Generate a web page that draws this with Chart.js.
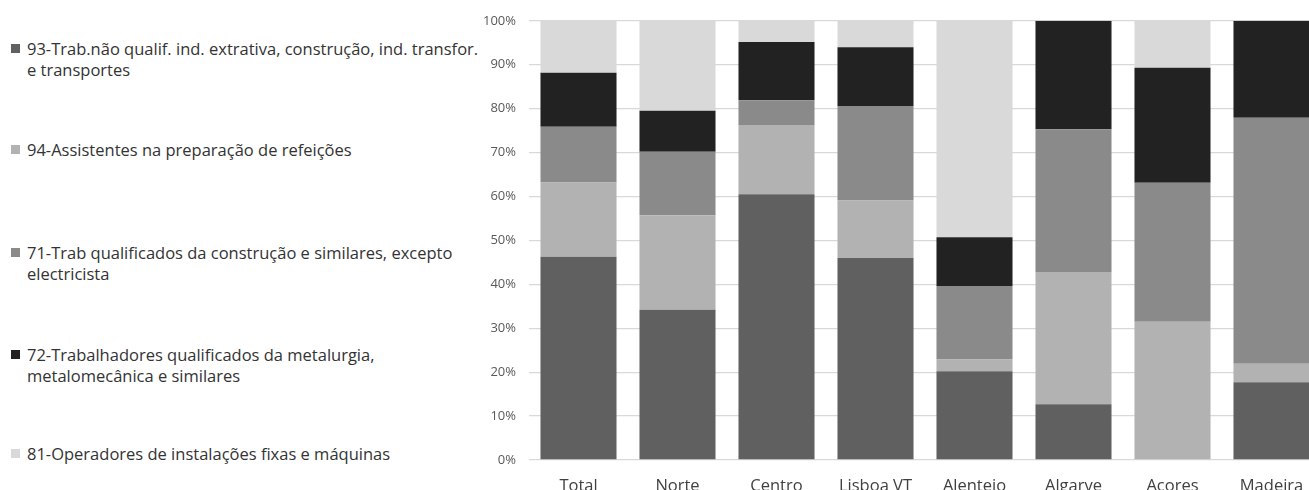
<!DOCTYPE html>
<html>
<head>
<meta charset="utf-8">
<script src="https://cdn.jsdelivr.net/npm/chart.js@4.4.1/dist/chart.umd.min.js"></script>
<style>
  html, body { margin: 0; padding: 0; overflow: hidden; background: #fff; width: 1309px; height: 490px; }
  #wrap { position: absolute; left: 440px; top: 0; width: 890px; height: 500px; }
  #legend { position: absolute; left: 0; top: 0; font-family: "Open Sans", sans-serif; font-size: 16.5px; color: #333; }
  .item { position: absolute; left: 11px; width: 480px; line-height: 21px; }
  .sw { position: absolute; left: 0; top: 6px; width: 9px; height: 9px; }
  .txt { position: absolute; left: 16px; width: 457px; }
</style>
</head>
<body>
<div id="legend"></div>
<div id="wrap"><canvas id="c"></canvas></div>
<script>
const categories = ["Total", "Norte", "Centro", "Lisboa VT", "Alentejo", "Algarve", "Açores", "Madeira"];
const seriesNames = [
  "93-Trab.não qualif. ind. extrativa, construção, ind. transfor. e transportes",
  "94-Assistentes na preparação de refeições",
  "71-Trab qualificados da construção e similares, excepto electricista",
  "72-Trabalhadores qualificados da metalurgia, metalomecânica e similares",
  "81-Operadores de instalações fixas e máquinas"
];
const s93 = [46.3, 34.2, 60.5, 46.0, 20.2, 12.7, 0.0, 17.7];
const s94 = [16.9, 21.5, 15.8, 13.1, 2.7, 30.1, 31.5, 4.2];
const s71 = [12.7, 14.5, 5.6, 21.5, 16.7, 32.5, 31.6, 56.0];
const s72 = [12.3, 9.3, 13.3, 13.4, 11.1, 24.7, 26.2, 22.1];
const s81 = [11.8, 20.5, 4.8, 6.0, 49.3, 0.0, 10.7, 0.0];
const yTicks = [0, 10, 20, 30, 40, 50, 60, 70, 80, 90, 100];
const colors = ["#606060", "#b2b2b2", "#8a8a8a", "#222222", "#d9d9d9"];
const seriesValues = [s93, s94, s71, s72, s81];

// HTML legend built from series arrays
const legendTops = [38, 139, 242, 344, 443];
const legend = document.getElementById('legend');
seriesNames.forEach((name, i) => {
  const it = document.createElement('div');
  it.className = 'item';
  it.style.top = legendTops[i] + 'px';
  const sw = document.createElement('div');
  sw.className = 'sw';
  sw.style.background = colors[i];
  const tx = document.createElement('div');
  tx.className = 'txt';
  tx.textContent = name;
  it.appendChild(sw); it.appendChild(tx);
  legend.appendChild(it);
});

new Chart(document.getElementById('c'), {
  type: 'bar',
  data: {
    labels: categories,
    datasets: seriesNames.map((n, i) => ({
      label: n,
      data: seriesValues[i],
      backgroundColor: colors[i],
      borderWidth: 0,
      barPercentage: 0.768,
      categoryPercentage: 1.0
    }))
  },
  options: {
    responsive: true,
    maintainAspectRatio: false,
    animation: false,
    layout: { padding: { top: 17, right: 9, bottom: 0, left: 0 } },
    plugins: { legend: { display: false }, tooltip: { enabled: false } },
    scales: {
      x: {
        stacked: true,
        grid: { display: false, drawTicks: false },
        border: { display: false },
        ticks: { color: '#404040', font: { family: 'Open Sans', size: 16.5 }, padding: 16, maxRotation: 0, autoSkip: false },
        afterFit: (s) => { s.height = 40; }
      },
      y: {
        stacked: true,
        min: 0, max: 100,
        afterBuildTicks: (s) => { s.ticks = yTicks.map(v => ({ value: v })); },
        grid: { color: '#d9d9d9', lineWidth: 1.3, drawTicks: false },
        border: { display: false },
        ticks: { color: '#595959', font: { family: 'Open Sans', size: 13 }, padding: 13, callback: (v) => v + '%' },
        afterFit: (s) => { s.width = 89; }
      }
    }
  }
});
</script>
</body>
</html>
